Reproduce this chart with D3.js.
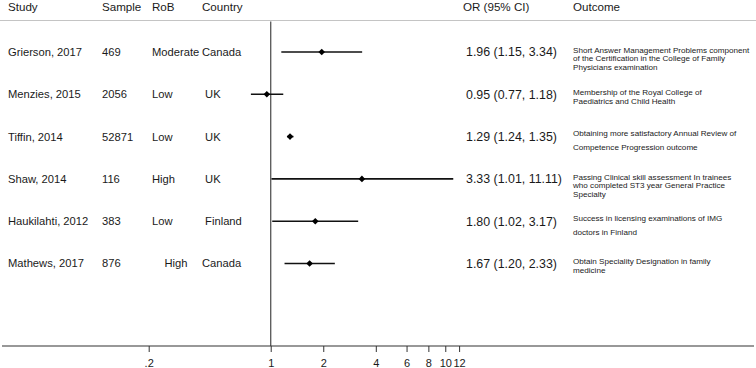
<!DOCTYPE html>
<html>
<head>
<meta charset="utf-8">
<script src="https://cdn.jsdelivr.net/npm/d3@7"></script>
<style>
  body { margin: 0; background: #fff; }
  text { font-family: "Liberation Sans", Arial, sans-serif; fill: #1a1a1a; }
</style>
</head>
<body>
<div id="forest"></div>
<script>
// study data
const studies = ["Grierson, 2017", "Menzies, 2015", "Tiffin, 2014", "Shaw, 2014", "Haukilahti, 2012", "Mathews, 2017"];
const samples = ["469", "2056", "52871", "116", "383", "876"];
const rob = ["Moderate", "Low", "Low", "High", "Low", "    High"];
const country = ["Canada", " UK", " UK", " UK", " Finland", "Canada"];
const or = [1.96, 0.95, 1.29, 3.33, 1.80, 1.67];
const lower = [1.15, 0.77, 1.24, 1.01, 1.02, 1.20];
const upper = [3.34, 1.18, 1.35, 11.11, 3.17, 2.33];
const outcomes = [
    ["Short Answer Management Problems component", "of the Certification in the College of Family", "Physicians examination"],
    ["Membership of the Royal College of", "Paediatrics and Child Health"],
    ["Obtaining more satisfactory Annual Review of", "Competence Progression outcome"],
    ["Passing Clinical skill assessment In trainees", "who completed ST3 year General Practice", "Specialty"],
    ["Success in licensing examinations of IMG", "doctors in Finland"],
    ["Obtain Speciality Designation in family", "medicine"]
];
const tickVals = [0.2, 1, 2, 4, 6, 8, 10, 12];
const headers = ["Study", "Sample", "RoB", "Country", "OR (95% CI)", "Outcome"];

function drawForest() {
    var width = 756
    var height = 368;

    let svg = d3.select("#forest")
        .append("svg")
        .attr("width", width)
        .attr("height", height)

    var axisY = 346;
    var headerY = 20.5;

    // log scale for the odds ratios
    const x = d3.scaleLog()
        .domain([0.2, 12])
        .range([148.7, 459.1])

    // one band per study
    const y = d3.scalePoint()
        .domain(studies)
        .range([52, 263.5])

    const colX = [8, 102, 152, 202, 463, 573];

    // header
    svg.selectAll("hdr")
        .data(headers)
        .join("text")
        .attr("x", (d, i) => colX[i])
        .attr("y", 7)
        .attr("dy", "0.35em")
        .style("font-size", "11.6px")
        .text(d => d)

    svg.append("line")
        .attr("x1", 0).attr("x2", width)
        .attr("y1", headerY).attr("y2", headerY)
        .attr("stroke", "#c4c4c4")
        .attr("stroke-width", 1)

    // reference line at OR = 1
    svg.append("line")
        .attr("x1", x(1)).attr("x2", x(1))
        .attr("y1", headerY + 1).attr("y2", axisY)
        .attr("stroke", "#555")
        .attr("stroke-width", 1.3)

    const rows = studies.map((s, i) => ({
        study: s, n: samples[i], rob: rob[i], country: country[i],
        or: or[i], lo: lower[i], hi: upper[i], outcome: outcomes[i]
    }));

    const cols = ["study", "n", "rob", "country"];
    cols.forEach(function (c, ci) {
        svg.selectAll("col" + ci)
            .data(rows)
            .join("text")
            .attr("x", colX[ci])
            .attr("y", d => y(d.study))
            .attr("dy", "0.35em")
            .style("font-size", "11.2px")
            .style("white-space", "pre")
            .text(d => d[c])
    });

    // CI lines
    svg.selectAll("ci")
        .data(rows)
        .join("line")
        .attr("x1", d => x(d.lo))
        .attr("x2", d => x(d.hi))
        .attr("y1", d => y(d.study))
        .attr("y2", d => y(d.study))
        .attr("stroke", "#111")
        .attr("stroke-width", 1.6)

    // point estimates as small diamonds
    svg.selectAll("pt")
        .data(rows)
        .join("path")
        .attr("d", d => {
            var cx = x(d.or), cy = y(d.study), r = 3.3;
            return "M" + cx + "," + (cy - r) + "L" + (cx + r) + "," + cy +
                "L" + cx + "," + (cy + r) + "L" + (cx - r) + "," + cy + "Z";
        })
        .attr("fill", "#000")

    // OR (95% CI) text
    svg.selectAll("ortext")
        .data(rows)
        .join("text")
        .attr("x", colX[4] + 3)
        .attr("y", d => y(d.study))
        .attr("dy", "0.35em")
        .style("font-size", "12.4px")
        .text(d => d.or.toFixed(2) + " (" + d.lo.toFixed(2) + ", " + d.hi.toFixed(2) + ")")

    // outcome, small wrapped text; two rows were typeset with looser spacing
    const looseRows = ["Tiffin, 2014", "Haukilahti, 2012"];
    rows.forEach(function (d) {
        var loose = looseRows.includes(d.study);
        var gap = loose ? 13.5 : 8.4;
        var y0 = y(d.study) - (loose ? 3 : 2);
        svg.append("g")
            .selectAll("text")
            .data(d.outcome)
            .join("text")
            .attr("x", colX[5])
            .attr("y", (t, k) => y0 + k * gap)
            .attr("dy", "0.35em")
            .style("font-size", "8.1px")
            .text(t => t)
    });

    // x axis
    svg.append("line")
        .attr("x1", 2).attr("x2", 754)
        .attr("y1", axisY).attr("y2", axisY)
        .attr("stroke", "#333")
        .attr("stroke-width", 1.2)

    const axis = svg.append("g")
        .attr("transform", "translate(0," + axisY + ")")
        .call(d3.axisBottom(x)
            .tickValues(tickVals)
            .tickSize(6)
            .tickPadding(7)
            .tickFormat(d => d < 1 ? String(d).replace(/^0/, "") : String(d)))

    axis.select(".domain").remove();
    axis.selectAll(".tick line").attr("stroke", "#333");
    axis.selectAll(".tick text")
        .style("font-size", "11px")
        .style("font-family", "'Liberation Sans Narrow', 'Liberation Sans', Arial, sans-serif")
        .attr("fill", "#1a1a1a");
}

drawForest();
</script>
</body>
</html>
